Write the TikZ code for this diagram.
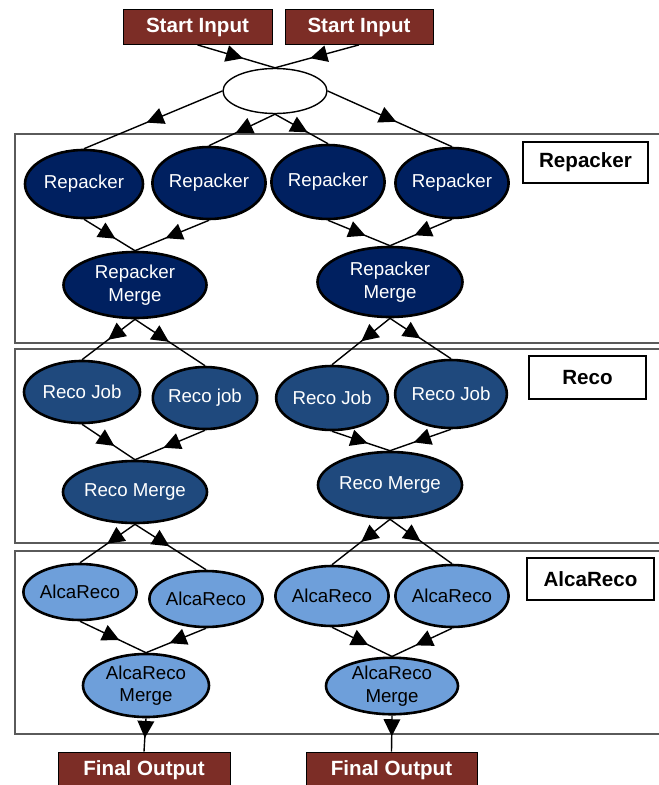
\documentclass[tikz,border=0pt]{standalone}
\usepackage{fontspec}
\setmainfont{Liberation Sans}
\usetikzlibrary{shapes.geometric,decorations.markings,backgrounds}

\definecolor{ioBrown}{RGB}{124,45,38}
\definecolor{repNavy}{RGB}{0,32,96}
\definecolor{recoBlue}{RGB}{31,73,125}
\definecolor{alcaBlue}{RGB}{110,159,218}
\definecolor{frameGray}{RGB}{90,90,90}

\tikzset{
  job/.style={ellipse, draw=black, line width=2.6pt, inner sep=0pt,
    align=center, font=\fontsize{18.7}{22.5}\selectfont},
  repjob/.style={job, fill=repNavy, text=white},
  recojob/.style={job, fill=recoBlue, text=white},
  alcajob/.style={job, fill=alcaBlue, text=black},
  iobox/.style={rectangle, draw=black, line width=0.8pt, fill=ioBrown, text=white,
    inner sep=0pt, font=\fontsize{20.6}{24}\selectfont\bfseries},
  tagbox/.style={rectangle, draw=black, line width=2.4pt, fill=white, inner sep=0pt,
    font=\fontsize{20.6}{24}\selectfont\bfseries},
  stage/.style={draw=frameGray, line width=1.3pt},
  % connector with a filled triangle partway along it
  flow/.style={draw=black, line width=1.4pt, postaction={decorate},
    decoration={markings, mark=at position #1 with
      {\fill[black] (7pt,0pt) -- (-10pt,8.5pt) -- (-10pt,-8.5pt) -- cycle;}}},
  flow/.default=0.5
}

\begin{document}
\begin{tikzpicture}[x=1pt,y=-1pt]
  \clip (0,0) rectangle (659,785);

  % stage titles
  \node[tagbox, minimum width=125pt, minimum height=41pt] (tagRep) at (585.5,162.5) {Repacker};
  \node[tagbox, minimum width=117pt, minimum height=43pt] (tagReco) at (587.5,377.5) {Reco};
  \node[tagbox, minimum width=127pt, minimum height=42pt] (tagAlca) at (590.5,579) {AlcaReco};

  % inputs and splitter
  \node[iobox, minimum width=149pt, minimum height=35pt] (in1) at (197.5,27) {Start Input};
  \node[iobox, minimum width=148pt, minimum height=35pt] (in2) at (359,27) {Start Input};
  \node[ellipse, draw=black, line width=1.4pt, fill=white, minimum width=104pt, minimum height=45pt] (hub) at (275,91) {};

  % repacker jobs
  \node[repjob, minimum width=118pt, minimum height=68pt] (r1) at (84,184) {Repacker};
  \node[repjob, minimum width=105pt, minimum height=72pt] (r2) at (209,183) {Repacker};
  \node[repjob, minimum width=110pt, minimum height=74pt] (r3) at (328,182) {Repacker};
  \node[repjob, minimum width=111pt, minimum height=70pt] (r4) at (452,183) {Repacker};
  \node[repjob, minimum width=143pt, minimum height=66pt] (rm1) at (135,285) {Repacker\\Merge};
  \node[repjob, minimum width=145pt, minimum height=70pt] (rm2) at (390,282) {Repacker\\Merge};

  % reco jobs
  \node[recojob, minimum width=116pt, minimum height=62pt] (c1) at (82,392) {Reco Job};
  \node[recojob, minimum width=104pt, minimum height=62pt] (c2) at (205,398) {Reco job};
  \node[recojob, minimum width=110pt, minimum height=64pt] (c3) at (332,398) {Reco Job};
  \node[recojob, minimum width=108pt, minimum height=68pt] (c4) at (451,394) {Reco Job};
  \node[recojob, minimum width=124pt, minimum height=62pt] (cm1) at (135,492) {Reco Merge};
  \node[recojob, minimum width=126pt, minimum height=66pt] (cm2) at (390,485) {Reco Merge};

  % alcareco jobs
  \node[alcajob, minimum width=106pt, minimum height=56pt] (a1) at (80,592) {AlcaReco};
  \node[alcajob, minimum width=106pt, minimum height=56pt] (a2) at (206,599) {AlcaReco};
  \node[alcajob, minimum width=108pt, minimum height=60pt] (a3) at (332,596) {AlcaReco};
  \node[alcajob, minimum width=111pt, minimum height=62pt] (a4) at (452,596) {AlcaReco};
  \node[alcajob, minimum width=126pt, minimum height=63pt] (am1) at (146,685.5) {AlcaReco\\Merge};
  \node[alcajob, minimum width=132pt, minimum height=56pt] (am2) at (392,686) {AlcaReco\\Merge};

  % outputs
  \node[iobox, minimum width=172pt, minimum height=36pt] (out1) at (144,770) {Final Output};
  \node[iobox, minimum width=171pt, minimum height=36pt] (out2) at (391.5,770) {Final Output};

  \begin{scope}[on background layer]
    % page and processing stages
    \fill[white] (0,0) rectangle (659,785);
    \draw[stage] (15,134) rectangle (672,343);
    \draw[stage] (15,349) rectangle (672,543);
    \draw[stage] (15,551) rectangle (672,734);

    % inputs into splitter
    \draw[flow] (in1.south) -- (hub.north);
    \draw[flow] (in2.south) -- (hub.north);
    % splitter into repacker jobs
    \draw[flow] (hub.west) -- (r1.north);
    \draw[flow] (hub.south) -- (r2.north);
    \draw[flow] (hub.south) -- (r3.north);
    \draw[flow] (hub.east) -- (r4.north);
    % repacker jobs into merges
    \draw[flow] (r1.south) -- (rm1.north);
    \draw[flow] (r2.south) -- (rm1.north);
    \draw[flow] (r3.south) -- (rm2.north);
    \draw[flow] (r4.south) -- (rm2.north);
    % merges into reco jobs
    \draw[flow=0.4] (rm1.south) -- (c1.north);
    \draw[flow=0.4] (rm1.south) -- (c2.north);
    \draw[flow=0.4] (rm2.south) -- (c3.north);
    \draw[flow=0.4] (rm2.south) -- (c4.north);
    % reco jobs into merges
    \draw[flow] (c1.south) -- (cm1.north);
    \draw[flow] (c2.south) -- (cm1.north);
    \draw[flow] (c3.south) -- (cm2.north);
    \draw[flow] (c4.south) -- (cm2.north);
    % reco merges into alcareco jobs
    \draw[flow=0.4] (cm1.south) -- (a1.north);
    \draw[flow=0.4] (cm1.south) -- (a2.north);
    \draw[flow=0.4] (cm2.south) -- (a3.north);
    \draw[flow=0.4] (cm2.south) -- (a4.north);
    % alcareco jobs into merges
    \draw[flow] (a1.south) -- (am1.north);
    \draw[flow] (a2.south) -- (am1.north);
    \draw[flow] (a3.south) -- (am2.north);
    \draw[flow] (a4.south) -- (am2.north);
    % merges into final outputs
    \draw[flow=0.38] (am1.south) -- (out1.north);
    \draw[flow=0.38] (am2.south) -- (out2.north);
  \end{scope}
\end{tikzpicture}
\end{document}
